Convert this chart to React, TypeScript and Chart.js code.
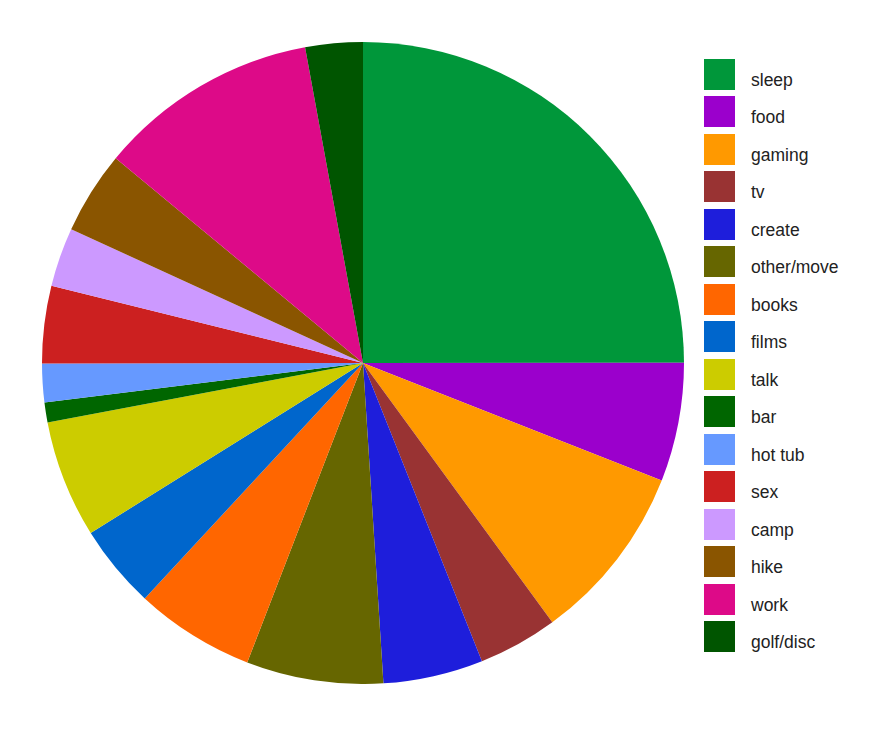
import React, { useEffect, useRef } from "react";
import { Chart, registerables } from "chart.js";

Chart.register(...registerables);

const categories: string[] = [
  "sleep", "food", "gaming", "tv", "create", "other/move", "books", "films",
  "talk", "bar", "hot tub", "sex", "camp", "hike", "work", "golf/disc",
];

// slice sizes (degrees of the circle)
const values: number[] = [
  90, 21.5, 32.4, 14.4, 18.1, 24.8, 21.7, 15.2,
  21.3, 3.6, 7, 14, 10.7, 15, 40, 10.4,
];

const colors: string[] = [
  "#00973a", "#9b00cc", "#ff9900", "#993333", "#1e1edb", "#666600", "#ff6600", "#0066cc",
  "#cccc00", "#006600", "#6699ff", "#cc2020", "#cc99ff", "#8a5500", "#dd0a88", "#005500",
];

export default function App() {
  const ref = useRef<HTMLCanvasElement | null>(null);

  useEffect(() => {
    if (!ref.current) return;
    const chart = new Chart(ref.current, {
      type: "pie",
      data: {
        labels: categories,
        datasets: [
          {
            data: values,
            backgroundColor: colors,
            borderWidth: 0,
            hoverOffset: 0,
            offset: 0,
          },
        ],
      },
      options: {
        animation: false,
        responsive: false,
        maintainAspectRatio: false,
        layout: { padding: 0 },
        plugins: {
          legend: { display: false },
          tooltip: { enabled: false },
        },
      },
    });
    return () => chart.destroy();
  }, []);

  return (
    <div
      style={{
        position: "fixed",
        left: 0,
        top: 0,
        width: 880,
        height: 750,
        background: "#ffffff",
        fontFamily: "'Liberation Sans', Arial, sans-serif",
      }}
    >
      <canvas
        ref={ref}
        width={642}
        height={642}
        style={{ position: "absolute", left: 42, top: 42, width: 642, height: 642 }}
      />
      {categories.map((c, i) => (
        <React.Fragment key={c}>
          <div
            style={{
              position: "absolute",
              left: 704,
              top: 58.5 + i * 37.5,
              width: 31,
              height: 31,
              background: colors[i],
            }}
          />
          <div
            style={{
              position: "absolute",
              left: 751,
              top: 58.5 + i * 37.5 + 11,
              fontSize: 17.5,
              lineHeight: "20px",
              color: "#222222",
              whiteSpace: "nowrap",
            }}
          >
            {c}
          </div>
        </React.Fragment>
      ))}
    </div>
  );
}
